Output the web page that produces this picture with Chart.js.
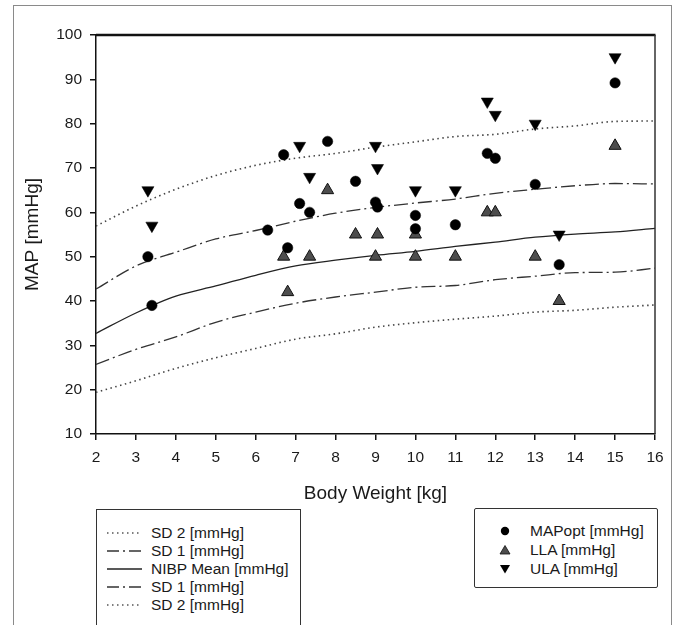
<!DOCTYPE html>
<html>
<head>
<meta charset="utf-8">
<script src="https://cdn.jsdelivr.net/npm/chart.js@4.4.1/dist/chart.umd.min.js"></script>
<style>
  html, body { margin:0; padding:0; background:#fff; }
  #wrap { position:relative; width:680px; height:625px; overflow:hidden; font-family:"Liberation Sans", Arial, sans-serif; color:#1a1a1a; }
  #frame { position:absolute; left:13px; top:5px; width:659px; height:660px; border:1px solid #8a8a8a; box-sizing:border-box; }
  canvas { position:absolute; left:0; top:0; }
  .box { position:absolute; border:1.5px solid #333; box-sizing:border-box; background:#fff; }
  .row { position:absolute; font-size:15.5px; line-height:18px; white-space:nowrap; }
  .sample { position:absolute; }
</style>
</head>
<body>
<div id="wrap">
  <div id="frame"></div>
  <canvas id="c" width="680" height="625"></canvas>
  <div class="box" id="legL" style="left:96px; top:509px; width:205px; height:140px;"></div>
  <div class="box" id="legR" style="left:474px; top:508px; width:184px; height:80px; border-radius:2px;"></div>
</div>
<script>
// ---- Data ----
const curveX   = [2, 3, 4, 5, 6, 7, 8, 9, 10, 11, 12, 13, 14, 15, 16];
const sd2Upper = [56.9, 61.4, 65.2, 68.3, 70.6, 72.2, 73.3, 74.7, 75.9, 77.1, 77.6, 78.8, 79.5, 80.5, 80.6];
const sd1Upper = [42.7, 47.9, 51.0, 54.0, 55.9, 58.0, 59.8, 61.1, 62.1, 63.0, 64.3, 65.2, 66.0, 66.5, 66.4];
const nibpMean = [32.7, 37.3, 41.1, 43.4, 45.8, 47.9, 49.2, 50.3, 51.2, 52.3, 53.3, 54.4, 55.1, 55.6, 56.4];
const sd1Lower = [25.7, 29.1, 31.9, 35.2, 37.5, 39.5, 40.9, 42.0, 43.1, 43.5, 44.8, 45.6, 46.4, 46.5, 47.4];
const sd2Lower = [19.4, 22.0, 24.8, 27.2, 29.3, 31.4, 32.6, 34.1, 35.1, 35.9, 36.6, 37.5, 37.9, 38.6, 39.1];

const mapX = [3.3, 3.4, 6.3, 6.7, 6.8, 7.1, 7.35, 7.8, 8.5, 9.0, 9.05, 10, 10, 11, 11.8, 12, 13, 13.6, 15];
const mapY = [50, 39, 56, 73, 52, 62, 60, 76, 67, 62.3, 61.2, 59.3, 56.3, 57.2, 73.3, 72.2, 66.3, 48.2, 89.2];
const llaX = [6.7, 6.8, 7.35, 7.8, 8.5, 9.0, 9.05, 10, 10, 11, 11.8, 12, 13, 13.6, 15];
const llaY = [50, 42, 50, 65, 55, 50, 55, 55, 50, 50, 60, 60, 50, 40, 75];
const ulaX = [3.3, 3.4, 7.1, 7.35, 9.0, 9.05, 10, 11, 11.8, 12, 13, 13.6, 15];
const ulaY = [65, 57, 75, 68, 75, 70, 65, 65, 85, 82, 80, 55, 95];

const xTicks = [2, 3, 4, 5, 6, 7, 8, 9, 10, 11, 12, 13, 14, 15, 16];
const yTicks = [10, 20, 30, 40, 50, 60, 70, 80, 90, 100];

const lineLabels = ['SD 2 [mmHg]', 'SD 1 [mmHg]', 'NIBP Mean [mmHg]', 'SD 1 [mmHg]', 'SD 2 [mmHg]'];
const pointLabels = ['MAPopt [mmHg]', 'LLA [mmHg]', 'ULA [mmHg]'];

// ---- helpers ----
const pts = (xs, ys) => xs.map((x, i) => ({x: x, y: ys[i]}));
const DOT = [1.5, 3.5];
const DASHDOT = [14, 4, 2, 4];

function lineDs(label, ys, dash, color, width) {
  return {
    type: 'line', label: label, data: pts(curveX, ys),
    borderColor: color, borderWidth: width, borderDash: dash,
    pointRadius: 0, fill: false, cubicInterpolationMode: 'monotone', order: 2
  };
}

const framePlugin = {
  id: 'frame',
  afterDraw(chart) {
    const {ctx, chartArea: {left, top, right, bottom}} = chart;
    ctx.save();
    ctx.strokeStyle = '#111';
    ctx.lineWidth = 2.5;
    ctx.beginPath(); ctx.moveTo(left, top); ctx.lineTo(right + 0.5, top); ctx.stroke();
    ctx.strokeStyle = '#333';
    ctx.lineWidth = 1.5;
    ctx.beginPath(); ctx.moveTo(right, top); ctx.lineTo(right, bottom); ctx.stroke();
    ctx.restore();
  }
};

new Chart(document.getElementById('c'), {
  type: 'scatter',
  data: {
    datasets: [
      {label: pointLabels[0], data: pts(mapX, mapY), pointStyle: 'circle', pointRadius: 5.2,
       backgroundColor: '#000', borderColor: '#000', borderWidth: 0.5, order: 0},
      {label: pointLabels[1], data: pts(llaX, llaY), pointStyle: 'triangle', pointRadius: 7,
       backgroundColor: '#4d4d4d', borderColor: '#111', borderWidth: 1, order: 1},
      {label: pointLabels[2], data: pts(ulaX, ulaY), pointStyle: 'triangle', rotation: 180, pointRadius: 7,
       backgroundColor: '#000', borderColor: '#000', borderWidth: 0.5, order: 1},
      lineDs(lineLabels[0], sd2Upper, DOT, '#444', 1.6),
      lineDs(lineLabels[1], sd1Upper, DASHDOT, '#333', 1.3),
      lineDs(lineLabels[2], nibpMean, [], '#222', 1.3),
      lineDs(lineLabels[3], sd1Lower, DASHDOT, '#333', 1.3),
      lineDs(lineLabels[4], sd2Lower, DOT, '#444', 1.6)
    ]
  },
  options: {
    responsive: false,
    animation: false,
    events: [],
    layout: {padding: {left: 0, top: 35, right: 25, bottom: 116}},
    plugins: {legend: {display: false}, tooltip: {enabled: false}},
    scales: {
      x: {
        type: 'linear', min: 2, max: 16,
        afterFit: s => { s.height = 75; },
        afterBuildTicks: s => { s.ticks = xTicks.map(v => ({value: v})); },
        ticks: {font: {family: 'Liberation Sans', size: 15.5}, color: '#1a1a1a', padding: 8, maxRotation: 0, autoSkip: false},
        grid: {drawOnChartArea: false, drawTicks: true, tickLength: 6, color: '#111', lineWidth: 1.5},
        border: {display: true, color: '#111', width: 1.5},
        title: {display: true, text: 'Body Weight [kg]', font: {family: 'Liberation Sans', size: 19}, color: '#1a1a1a', padding: {top: 0, bottom: 3.5}}
      },
      y: {
        type: 'linear', min: 10, max: 100,
        afterFit: s => { s.width = 96; },
        afterBuildTicks: s => { s.ticks = yTicks.map(v => ({value: v})); },
        ticks: {font: {family: 'Liberation Sans', size: 15.5}, color: '#1a1a1a', padding: 8, autoSkip: false},
        grid: {drawOnChartArea: false, drawTicks: true, tickLength: 6, color: '#111', lineWidth: 1.5},
        border: {display: true, color: '#111', width: 1.5},
        title: {display: true, text: 'MAP [mmHg]', font: {family: 'Liberation Sans', size: 19}, color: '#1a1a1a', padding: {top: 21, bottom: 0}}
      }
    }
  },
  plugins: [framePlugin]
});

// ---- HTML legends ----
const legL = document.getElementById('legL');
const lineStyles = [
  {dash: '1.5 3.5', w: 1.4, c: '#555'},
  {dash: '12 4 2 4', w: 1.3, c: '#333'},
  {dash: '', w: 1.3, c: '#222'},
  {dash: '12 4 2 4', w: 1.3, c: '#333'},
  {dash: '1.5 3.5', w: 1.4, c: '#555'}
];
lineLabels.forEach((lab, i) => {
  const cy = 24 + i * 18; // relative to box outer top
  const s = lineStyles[i];
  const svg = document.createElementNS('http://www.w3.org/2000/svg', 'svg');
  svg.setAttribute('width', '36'); svg.setAttribute('height', '6');
  svg.setAttribute('class', 'sample');
  svg.style.left = '10px'; svg.style.top = (cy - 3 - 1.5) + 'px';
  svg.innerHTML = '<line x1="0" y1="3" x2="35" y2="3" stroke="' + s.c + '" stroke-width="' + s.w + '"' +
    (s.dash ? ' stroke-dasharray="' + s.dash + '"' : '') + '/>';
  legL.appendChild(svg);
  const d = document.createElement('div');
  d.className = 'row'; d.textContent = lab;
  d.style.left = '54px'; d.style.top = (cy - 9 - 1.5) + 'px';
  legL.appendChild(d);
});

const legR = document.getElementById('legR');
const markers = [
  '<circle cx="6" cy="6" r="4.2" fill="#000"/>',
  '<polygon points="6,1.5 11,10 1,10" fill="#4d4d4d" stroke="#111" stroke-width="0.8"/>',
  '<polygon points="1,2 11,2 6,10.5" fill="#000"/>'
];
pointLabels.forEach((lab, i) => {
  const cy = 23.5 + i * 19;
  const svg = document.createElementNS('http://www.w3.org/2000/svg', 'svg');
  svg.setAttribute('width', '12'); svg.setAttribute('height', '12');
  svg.setAttribute('class', 'sample');
  svg.style.left = (31 - 6 - 1.5) + 'px'; svg.style.top = (cy - 6 - 1.5) + 'px';
  svg.innerHTML = markers[i];
  legR.appendChild(svg);
  const d = document.createElement('div');
  d.className = 'row'; d.textContent = lab;
  d.style.left = '55px'; d.style.top = (cy - 9 - 1.5) + 'px';
  legR.appendChild(d);
});
</script>
</body>
</html>
